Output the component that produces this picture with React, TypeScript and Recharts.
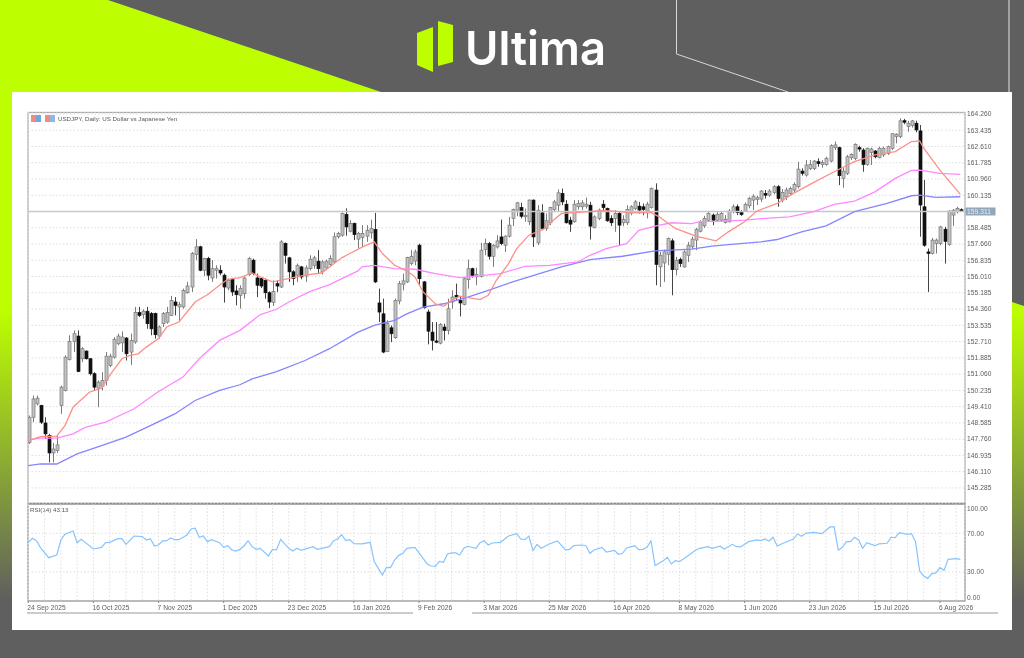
import React from 'react';
import { ComposedChart, LineChart, Bar, Line, XAxis, YAxis, CartesianGrid, ReferenceLine } from 'recharts';

const dateLabels = ['24 Sep 2025','16 Oct 2025','7 Nov 2025','1 Dec 2025','23 Dec 2025','16 Jan 2026','9 Feb 2026','3 Mar 2026','25 Mar 2026','16 Apr 2026','8 May 2026','1 Jun 2026','23 Jun 2026','15 Jul 2026','6 Aug 2026'];
const priceTicks = [164.26,163.435,162.61,161.785,160.96,160.135,159.311,158.485,157.66,156.835,156.01,155.185,154.36,153.535,152.71,151.885,151.06,150.235,149.41,148.585,147.76,146.935,146.11,145.285];
const lastPrice = 159.311;
const rsiTicks = [0,30,70,100];
const gridBars = Array.from({ length: 58 }, (_, k) => k * 4);

const opens = [
147.60,148.87,149.55,149.47,148.58,147.94,147.06,147.18,149.47,150.23,
151.80,152.72,152.99,151.84,152.23,151.84,151.08,150.35,150.45,150.74,
151.50,151.92,152.60,152.65,152.89,152.18,152.69,154.18,154.08,154.25,
154.13,154.13,152.99,153.62,153.70,154.04,154.72,154.47,154.47,155.19,
155.48,157.13,157.52,156.33,156.92,155.94,156.33,156.33,156.08,155.43,
155.87,155.28,155.06,155.14,156.11,156.84,155.94,155.91,155.82,155.19,
154.69,155.65,155.48,157.69,156.96,156.25,156.08,156.50,156.04,156.41,
156.58,156.79,156.25,156.45,156.62,156.75,158.03,158.11,159.16,158.31,
158.70,157.91,157.99,158.06,158.23,158.40,154.67,154.12,152.21,153.41,
152.91,154.77,155.62,155.74,156.67,156.80,157.60,155.74,154.21,153.19,
152.74,152.63,153.45,153.28,154.72,155.06,154.80,154.60,155.85,156.41,
156.02,156.02,157.38,157.68,157.04,157.51,158.02,157.60,158.06,158.96,
159.38,159.51,159.04,158.79,159.89,157.72,159.24,158.45,158.74,159.41,
159.63,160.23,159.68,158.87,158.79,159.55,159.55,159.58,159.63,158.50,
158.96,159.68,159.46,158.96,158.96,159.21,158.74,158.74,159.24,159.46,
159.58,159.55,159.34,159.51,160.40,156.50,156.70,157.14,157.82,156.36,
156.87,156.50,157.09,157.52,157.86,158.31,158.58,158.87,159.13,158.87,
158.87,158.75,158.79,159.30,159.55,159.26,159.33,159.60,159.89,159.92,
159.94,160.23,160.14,160.28,160.57,159.89,160.06,160.23,160.40,160.57,
161.36,161.16,161.50,161.50,161.84,161.70,161.70,161.87,162.55,162.55,
160.99,161.25,162.04,162.01,162.55,162.43,161.70,162.31,162.38,162.04,
162.18,162.26,162.52,163.11,163.11,163.92,163.62,163.67,163.79,163.40,
159.55,157.26,157.18,157.69,157.69,158.41,157.64,159.13,159.30,159.40];
const highs = [
148.96,149.97,149.97,149.50,148.87,148.03,147.57,147.94,150.48,152.01,
153.03,153.28,153.28,152.43,152.26,151.87,151.16,150.74,151.16,152.18,
152.09,152.94,153.11,153.23,152.94,153.11,154.47,154.47,154.35,154.47,
154.21,154.18,153.53,154.21,154.47,155.03,154.97,154.72,155.40,155.74,
157.26,157.91,157.57,156.96,157.01,156.84,156.58,156.58,156.16,155.91,
155.94,155.57,155.57,155.99,157.01,156.92,156.16,155.99,155.91,155.26,
155.82,155.82,157.86,157.74,157.01,156.33,156.67,156.55,156.58,157.09,
157.06,157.35,156.84,156.87,157.09,158.25,158.28,159.26,159.47,158.87,
158.75,158.28,158.62,158.62,158.90,159.24,155.40,154.89,153.79,153.53,
154.89,155.79,156.16,157.01,157.35,157.38,157.68,155.79,154.33,153.70,
153.70,153.65,153.62,154.89,155.31,155.65,154.97,155.99,156.87,156.46,
156.46,157.72,157.94,157.77,157.65,158.11,158.90,158.11,159.04,159.46,
159.80,159.75,159.46,159.92,159.92,159.63,159.68,159.21,159.55,159.89,
160.43,160.48,159.89,159.04,159.89,159.89,159.89,160.02,159.80,159.12,
159.46,159.89,159.51,159.12,159.38,159.29,159.12,159.63,159.63,159.89,
159.80,159.72,159.80,160.53,160.74,157.26,157.38,157.99,157.94,157.01,
156.97,157.35,157.77,158.03,158.48,158.87,159.09,159.30,159.21,159.33,
159.30,159.13,159.43,159.67,159.67,159.38,159.77,160.06,160.18,160.11,
160.40,160.40,160.45,160.65,160.65,160.45,160.52,160.57,160.79,161.84,
161.50,161.92,161.92,161.92,162.01,161.92,162.09,162.72,162.86,162.60,
161.53,162.18,162.26,162.77,162.65,162.52,162.55,162.55,162.43,162.60,
162.60,162.65,163.28,163.28,164.04,164.01,163.91,163.96,163.92,163.70,
160.91,157.43,157.97,157.94,158.58,158.53,159.38,159.43,159.55,159.47];
const lows = [
147.52,148.62,149.47,148.53,147.77,146.58,146.58,147.06,149.04,150.18,
151.75,152.18,151.16,151.67,151.80,150.99,150.23,149.38,150.23,150.48,
151.41,151.84,152.52,152.18,151.75,151.53,152.60,153.96,153.87,153.36,
153.03,152.86,152.86,153.45,153.62,154.01,154.04,153.70,154.38,155.14,
155.23,156.84,156.28,156.04,155.82,155.74,155.91,156.08,154.69,155.31,
155.03,154.55,154.38,154.89,156.04,156.08,154.97,155.43,154.89,154.41,
154.52,155.23,155.43,156.67,155.74,155.57,155.74,155.87,155.74,156.33,
156.41,156.16,156.11,156.33,156.50,156.67,157.94,158.03,158.08,158.25,
157.86,157.43,157.51,157.77,157.94,155.68,153.70,152.12,152.18,152.68,
152.85,154.60,155.31,155.68,156.58,156.58,155.57,154.38,152.57,152.26,
152.63,152.57,152.77,153.07,154.38,154.80,153.99,154.55,155.40,155.96,
155.57,155.96,157.09,156.87,156.50,157.43,157.60,157.26,157.99,158.57,
159.07,158.96,158.79,158.62,157.51,157.60,158.36,158.33,158.62,159.29,
159.29,159.63,158.70,158.28,158.74,159.41,159.38,159.46,157.89,158.45,
158.87,159.38,158.79,158.57,158.28,157.60,158.57,158.62,159.12,159.38,
159.21,159.12,158.96,159.46,155.57,155.48,155.74,156.58,155.06,156.07,
156.50,156.46,156.75,157.40,157.35,158.25,158.48,158.79,158.62,158.79,
158.79,158.70,158.75,159.21,159.13,159.09,159.30,159.47,159.38,159.64,
159.80,159.97,160.06,160.18,159.55,159.77,159.89,160.14,160.28,160.48,
161.13,161.08,161.41,161.41,161.58,161.53,161.63,161.80,162.43,160.65,
160.52,161.16,161.92,161.92,162.35,161.33,161.63,161.67,162.01,162.01,
162.09,162.18,162.43,162.77,163.03,163.74,163.36,163.57,163.33,158.03,
157.52,155.23,157.13,157.18,157.60,156.67,157.57,158.58,159.21,159.30];
const closes = [
148.87,149.80,149.84,148.62,148.03,147.06,147.26,147.47,150.40,151.92,
152.72,153.11,151.19,152.35,151.84,151.08,150.40,150.65,150.74,151.97,
151.97,152.82,152.99,152.94,152.09,152.77,154.18,154.04,154.25,153.62,
153.36,153.06,153.45,154.13,154.18,154.80,154.55,154.58,155.31,155.53,
157.18,157.52,156.33,156.92,156.08,156.41,156.41,156.19,155.48,155.82,
155.23,155.09,155.40,155.94,156.92,156.16,155.57,155.53,155.19,154.72,
155.26,155.53,157.77,157.09,156.25,155.91,156.58,155.99,156.45,156.89,
156.96,156.41,156.75,156.79,156.92,158.03,158.19,159.21,158.53,158.70,
158.14,158.19,158.19,158.36,158.45,155.74,154.21,152.18,153.62,153.11,
154.80,155.65,155.79,156.97,157.04,157.26,155.90,154.43,153.24,152.77,
152.68,153.58,153.28,154.38,154.97,154.97,154.67,155.90,156.41,156.07,
156.12,157.35,157.68,157.04,157.60,157.82,157.68,158.06,158.62,159.41,
159.75,159.07,159.12,159.89,158.02,159.38,158.45,158.84,159.51,159.80,
160.26,159.80,158.74,158.67,159.68,159.72,159.75,159.68,158.57,159.04,
159.38,159.51,158.84,158.74,159.21,158.62,158.90,159.41,159.55,159.80,
159.38,159.41,159.68,160.48,156.63,157.09,157.26,157.94,156.36,156.84,
156.67,157.26,157.60,157.91,158.41,158.79,158.96,159.21,158.87,159.16,
159.21,158.92,159.33,159.55,159.26,159.16,159.67,159.97,160.09,160.01,
160.35,160.14,160.35,160.57,159.97,160.28,160.40,160.48,160.69,161.46,
161.25,161.67,161.70,161.87,161.74,161.80,162.01,162.65,162.69,161.13,
161.36,162.09,162.21,162.72,162.48,161.70,162.52,162.48,162.09,162.52,
162.52,162.60,163.26,163.23,163.91,163.84,163.79,163.91,163.45,159.64,
157.60,157.18,157.86,157.86,158.53,157.80,159.33,159.38,159.47,159.31];

// moving averages as [bar, price] at the line's visible vertices
const maFast: number[][] = [[0,147.69],[3,147.89],[7,147.91],[9,148.45],[11,149.38],[15,150.14],[18,150.35],[20,151.0],[23,151.84],[25,152.01],[27,152.09],[29,152.43],[32,152.86],[34,153.45],[37,153.70],[39,154.21],[41,154.72],[44,155.09],[47,155.57],[49,155.87],[52,155.96],[55,156.19],[57,155.99],[60,155.74],[63,155.87],[68,156.08],[72,156.19],[74,156.50],[77,156.96],[79,157.18],[82,157.50],[85,157.77],[87,157.18],[90,156.58],[93,156.30],[95,155.99],[97,155.23],[100,154.63],[102,154.50],[104,154.80],[106,155.02],[111,154.84],[113,155.06],[115,155.82],[118,156.67],[120,157.43],[123,158.11],[127,158.45],[129,158.87],[131,159.21],[136,159.28],[141,159.35],[144,159.33],[148,159.24],[153,159.26],[155,159.04],[159,158.45],[164,158.06],[169,157.82],[172,158.28],[176,158.79],[179,159.33],[184,159.72],[188,160.23],[193,160.79],[198,161.33],[203,161.84],[208,162.18],[213,162.35],[217,162.86],[219,162.89],[220,162.52],[224,161.41],[229,160.18]];
const maMid: number[][] = [[0,147.72],[3,147.81],[7,147.81],[11,148.03],[14,148.36],[19,148.62],[26,149.30],[32,150.18],[38,150.91],[42,151.84],[47,152.77],[52,153.28],[57,154.08],[61,154.35],[64,154.72],[69,155.23],[74,155.60],[81,156.30],[82,156.50],[85,156.58],[90,156.41],[95,156.38],[100,156.16],[106,155.96],[112,156.07],[116,156.16],[122,156.53],[128,156.58],[135,156.75],[138,157.09],[142,157.43],[147,157.68],[150,158.36],[154,158.57],[158,158.74],[163,158.70],[165,158.80],[171,158.82],[176,158.87],[181,158.96],[187,159.04],[193,159.30],[198,159.67],[203,159.84],[208,160.31],[213,160.99],[217,161.40],[219,161.41],[224,161.25],[229,161.19]];
const maSlow: number[][] = [[0,146.42],[3,146.50],[7,146.50],[12,147.01],[18,147.43],[24,147.86],[30,148.45],[36,149.04],[41,149.72],[47,150.23],[52,150.52],[55,150.82],[61,151.19],[68,151.75],[74,152.35],[81,153.19],[85,153.53],[90,153.79],[93,154.12],[97,154.46],[102,154.63],[108,154.97],[113,155.31],[119,155.74],[125,156.12],[131,156.50],[138,156.87],[146,157.04],[154,157.31],[163,157.40],[168,157.55],[172,157.63],[180,157.77],[184,157.89],[190,158.28],[196,158.58],[203,159.30],[211,159.72],[217,160.11],[219,160.14],[223,160.03],[229,160.06]];
const rsiPoints: number[][] = [[0,60.3],[1,64.8],[2,62.4],[3,55.2],[5,44.8],[7,47.6],[8,63.1],[9,69.0],[11,72.4],[12,60.3],[13,63.8],[16,53.8],[18,55.5],[19,60.3],[20,60.7],[22,64.5],[23,64.5],[24,58.6],[26,67.2],[28,66.6],[29,63.1],[30,64.5],[31,56.9],[32,57.9],[33,62.1],[34,62.4],[35,65.2],[36,63.4],[37,63.4],[39,68.3],[40,74.5],[41,75.2],[42,65.9],[43,67.2],[44,61.4],[45,63.4],[47,60.3],[48,55.5],[49,57.2],[50,52.8],[51,51.7],[52,53.4],[53,56.9],[54,62.4],[55,56.2],[56,53.4],[57,54.5],[59,46.6],[60,53.4],[61,52.8],[62,63.8],[64,54.5],[65,51.7],[66,54.5],[67,52.4],[70,56.2],[71,53.4],[74,56.2],[75,62.4],[76,64.1],[77,68.6],[78,62.4],[79,63.4],[80,59.3],[82,59.0],[84,60.7],[85,40.7],[86,33.8],[87,26.9],[88,34.8],[89,34.5],[90,42.4],[91,47.2],[92,49.0],[93,54.5],[95,55.5],[97,44.1],[98,38.3],[99,36.2],[100,35.9],[101,41.0],[102,40.0],[103,48.6],[104,49.7],[105,49.7],[106,47.6],[107,54.5],[108,56.6],[110,54.5],[111,60.3],[112,62.4],[113,57.9],[114,60.0],[116,60.7],[118,67.2],[120,69.7],[121,64.1],[122,63.4],[123,67.2],[124,52.1],[125,58.6],[126,54.5],[128,59.0],[130,62.1],[132,52.8],[133,53.4],[134,57.2],[136,57.9],[137,57.2],[138,49.3],[139,52.8],[141,55.5],[142,50.7],[144,52.4],[145,48.3],[146,49.3],[147,54.8],[149,57.2],[150,53.1],[151,53.4],[152,55.5],[153,62.1],[154,36.6],[156,41.7],[157,45.2],[158,38.3],[159,41.7],[160,40.7],[162,46.6],[164,52.8],[165,54.5],[167,56.2],[168,54.5],[170,56.6],[171,53.8],[173,58.6],[174,56.2],[175,55.9],[177,61.4],[179,63.1],[180,62.4],[181,64.1],[182,62.1],[183,65.9],[184,56.9],[186,60.7],[188,64.1],[189,69.3],[190,66.9],[191,70.0],[193,71.0],[195,69.7],[197,76.6],[198,76.6],[199,52.8],[200,55.2],[201,61.4],[202,61.4],[203,65.9],[204,63.1],[205,54.5],[206,60.3],[208,57.2],[209,59.0],[211,59.7],[212,65.9],[213,65.5],[214,70.7],[216,69.0],[217,69.7],[218,61.4],[219,31.0],[220,25.9],[221,23.4],[222,28.3],[223,29.0],[224,34.5],[225,31.7],[226,43.1],[228,43.8],[229,43.1]];

const lookup = (pairs: number[][]) => new Map(pairs.map(([b, v]) => [b, v] as [number, number]));
const fastMap = lookup(maFast), midMap = lookup(maMid), slowMap = lookup(maSlow), rsiMap = lookup(rsiPoints);

const rows = opens.map((open, bar) => ({
  bar, open, high: highs[bar], low: lows[bar], close: closes[bar],
  fast: fastMap.get(bar) ?? null, mid: midMap.get(bar) ?? null, slow: slowMap.get(bar) ?? null,
  rsi: rsiMap.get(bar) ?? null,
}));

const FONT = '"Liberation Sans", Arial, sans-serif';
const X_DOMAIN: [number, number] = [-0.07, 230.15];
const GRID = '#dedede';

function Candle(props: any) {
  const { x, y, width, height, payload } = props;
  if (!payload || height === undefined) return null;
  const { open, close, high, low } = payload;
  const cx = Math.round(x + width / 2) + 0.5;
  const py = (v: number) => y + ((high - v) / (high - low)) * height;
  const up = close >= open;
  const top = py(Math.max(open, close));
  const bot = py(Math.min(open, close));
  return (
    <g>
      <line x1={cx} x2={cx} y1={y} y2={y + height} stroke={up ? '#7c7c7c' : '#444'} strokeWidth={1} />
      <rect x={cx - 1.5} y={top} width={3} height={Math.max(bot - top, 0.8)}
        fill={up ? '#c4c4c4' : '#111'} stroke={up ? '#777' : '#111'} strokeWidth={0.7} />
    </g>
  );
}

function PriceTick(props: any) {
  const { x, y, payload } = props;
  const isLast = payload.value === lastPrice;
  return (
    <g>
      {isLast && <rect x={x - 7.5} y={y - 4} width={30} height={8} fill="#93a7bb" />}
      <text x={x - 6} y={y + 2.3} fontFamily={FONT} fontSize={6.6} fill={isLast ? '#e4ecf4' : '#5a5a5a'} letterSpacing={0.1}>
        {payload.value.toFixed(3)}
      </text>
    </g>
  );
}

function RsiTick(props: any) {
  const { x, y, payload } = props;
  const shift = payload.value === 100 ? 4 : payload.value === 0 ? -3.3 : 0;
  return (
    <text x={x - 6} y={y + shift + 2.3} fontFamily={FONT} fontSize={6.6} fill="#5a5a5a" letterSpacing={0.1}>
      {payload.value.toFixed(2)}
    </text>
  );
}

function DateTick(props: any) {
  const { x, y, payload } = props;
  if (payload.value % 16 !== 0) return null;
  return (
    <g>
      <line x1={x} x2={x} y1={y} y2={y + 2} stroke="#888" />
      <text x={x - 1} y={y + 8.5} fontFamily={FONT} fontSize={6.6} fill="#5a5a5a" letterSpacing={0.1}>
        {dateLabels[payload.value / 16]}
      </text>
    </g>
  );
}

function Backdrop() {
  return (
    <svg width={1024} height={658} style={{ position: 'absolute', left: 0, top: 0 }}>
      <defs>
        <linearGradient id="fadeL" gradientUnits="userSpaceOnUse" x1="0" y1="310" x2="0" y2="600">
          <stop offset="0" stopColor="#bdff00" />
          <stop offset="1" stopColor="#5f5f5f" />
        </linearGradient>
      </defs>
      <rect width={1024} height={658} fill="#5f5f5f" />
      <polygon points="0,0 108,0 381,92 12,92 12,320 0,320" fill="#bdff00" />
      <rect x={0} y={310} width={12} height={348} fill="url(#fadeL)" />
      <polygon points="1012,302 1024,306 1024,600 1012,600" fill="url(#fadeL)" />
      <polyline points="676.5,0 676.5,54 788,92" fill="none" stroke="#d8d8d8" strokeWidth={1} />
      <line x1={1009} y1={0} x2={1009} y2={92} stroke="#cfcfcf" strokeWidth={1.2} />
      <polygon points="417,33 433,27 433,72 417,65" fill="#bdff00" />
      <polygon points="438,21 453,25 453,62 438,66" fill="#bdff00" />
      <text x={465} y={65} fontFamily="Inter, sans-serif" fontWeight={600} fontSize={47} fill="#fff" textLength={141} lengthAdjust="spacingAndGlyphs">Ultima</text>

      <rect x={12} y={92} width={1000} height={538} fill="#fff" />

      <rect x={28} y={112.5} width={937} height={391} fill="none" stroke="#a8a8a8" strokeWidth={1.2} />
      <rect x={28} y={504} width={937} height={97} fill="none" stroke="#8c8c8c" strokeWidth={1.2} />
      <line x1={28} x2={965} y1={503.5} y2={503.5} stroke="#888" strokeWidth={1.6} />
      <line x1={27} x2={413} y1={613} y2={613} stroke="#9a9a9a" strokeWidth={1.2} />
      <line x1={472} x2={998} y1={613} y2={613} stroke="#9a9a9a" strokeWidth={1.2} />

      <rect x={31} y={115} width={5} height={7} fill="#f28a80" />
      <rect x={36} y={115} width={5} height={7} fill="#6fa8dc" />
      <rect x={45} y={115} width={5} height={7} fill="#f28a80" />
      <rect x={50} y={115} width={5} height={7} fill="#8ab8e8" />
      <text x={58} y={121} fontFamily={FONT} fontSize={6.2} fill="#555">USDJPY, Daily:  US Dollar vs Japanese Yen</text>
      <text x={30} y={512} fontFamily={FONT} fontSize={6.2} fill="#555">RSI(14) 43.13</text>
    </svg>
  );
}

export default function App() {
  return (
    <div style={{ position: 'absolute', left: 0, top: 0, width: 1024, height: 658, overflow: 'hidden', filter: 'blur(0.4px)' }}>
      <Backdrop />
      <div style={{ position: 'absolute', left: 0, top: 0 }}>
        <ComposedChart width={1024} height={505} data={rows} margin={{ top: 112, right: 0, bottom: 2, left: 28 }}>
          <CartesianGrid stroke={GRID} strokeDasharray="1.5 2" />
          <XAxis dataKey="bar" type="number" domain={X_DOMAIN} ticks={gridBars} tick={false} tickLine={false} axisLine={false} height={0} allowDataOverflow />
          <YAxis orientation="right" width={59} domain={[144.52, 164.36]} ticks={priceTicks} interval={0} tick={<PriceTick />} tickLine={false} axisLine={false} allowDataOverflow />
          <ReferenceLine y={lastPrice} stroke="#c0c8d0" strokeWidth={1.4} />
          <Bar dataKey={(d: any) => [d.low, d.high]} barSize={3} shape={<Candle />} isAnimationActive={false} />
          <Line dataKey="slow" stroke="#8585ff" strokeWidth={1.3} dot={false} connectNulls isAnimationActive={false} type="linear" />
          <Line dataKey="mid" stroke="#ff88ff" strokeWidth={1.3} dot={false} connectNulls isAnimationActive={false} type="linear" />
          <Line dataKey="fast" stroke="#fb9088" strokeWidth={1.3} dot={false} connectNulls isAnimationActive={false} type="linear" />
        </ComposedChart>
      </div>
      <div style={{ position: 'absolute', left: 0, top: 500 }}>
        <LineChart width={1024} height={130} data={rows} margin={{ top: 4.3, right: 0, bottom: 0, left: 28 }}>
          <CartesianGrid stroke={GRID} strokeDasharray="1.5 2" horizontalValues={[30, 70]} />
          <XAxis dataKey="bar" type="number" domain={X_DOMAIN} ticks={gridBars} interval={0} tick={<DateTick />} tickLine={false} axisLine={false} height={29} tickMargin={0} tickSize={0} allowDataOverflow />
          <YAxis orientation="right" width={59} domain={[0, 100]} ticks={rsiTicks} interval={0} tick={<RsiTick />} tickLine={false} axisLine={false} />
          <Line dataKey="rsi" stroke="#86c4ff" strokeWidth={1.2} dot={false} connectNulls isAnimationActive={false} type="linear" />
        </LineChart>
      </div>
    </div>
  );
}
